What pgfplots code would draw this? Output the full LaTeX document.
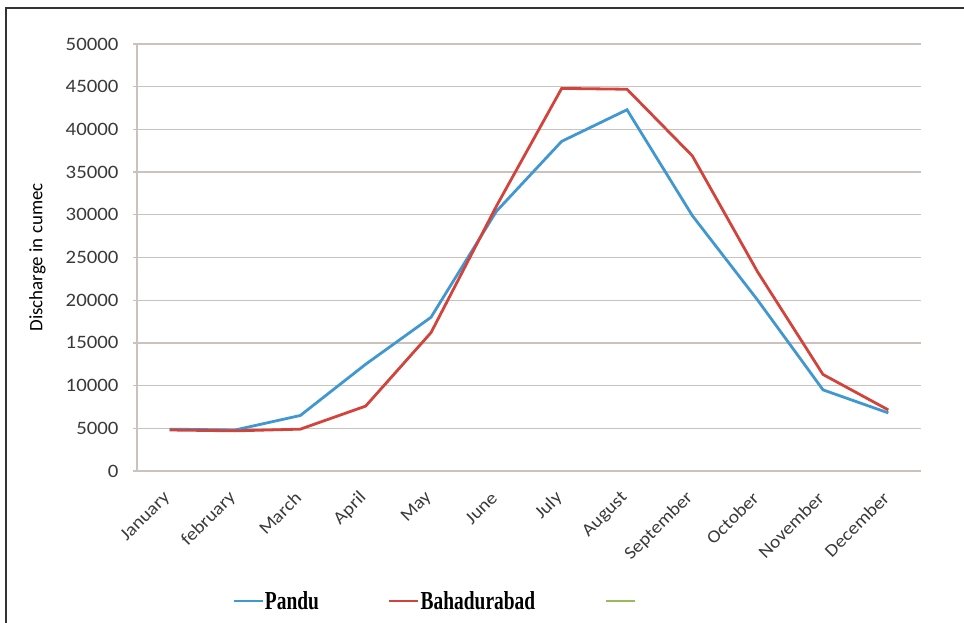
\documentclass[border=0pt]{standalone}
\usepackage{pgfplots}
\pgfplotsset{compat=1.18}
\usepackage{fontspec}
\setmainfont{Carlito}
\newfontfamily\tickfont[FakeStretch=1.1]{Carlito}
\newfontfamily\legfont[FakeStretch=0.75]{Liberation Serif}
\definecolor{pblue}{HTML}{4198D0}
\definecolor{pred}{HTML}{D2433C}
\definecolor{pgreen}{HTML}{9BBB59}
\definecolor{gridc}{HTML}{CBC2BE}
\definecolor{txt}{HTML}{3A3A3A}
\begin{document}
\begin{tikzpicture}[x=1bp,y=1bp]
\useasboundingbox (0,0) rectangle (964,623);
\draw[line width=2bp, color=black!80] (6,0) -- (6,615) -- (964,615);
\begin{axis}[
  at={(137bp,152bp)}, anchor=south west,
  scale only axis, width=784bp, height=427bp,
  xmin=-0.5, xmax=11.5, ymin=0, ymax=50000,
  axis x line*=bottom, axis y line*=left,
  axis line style={gridc, line width=1.3bp},
  ytick={0,5000,...,50000},
  scaled y ticks=false,
  ymajorgrids, grid style={gridc, line width=1.3bp},
  xtick=data,
  xticklabels={January,february,March,April,May,June,July,August,September,October,November,December},
  xtick style={draw=none},
  ytick style={gridc, line width=1.3bp},
  tick align=outside, major tick length=4bp,
  /pgf/number format/1000 sep={},
  /pgf/number format/assume math mode=true,
  yticklabel style={font=\tickfont\fontsize{19}{22}\selectfont, text=txt, xshift=-11bp},
  xticklabel style={xshift=-2bp, yshift=-20bp, rotate=45, anchor=east, inner sep=0pt, font=\tickfont\fontsize{18}{21}\selectfont, text=txt},
  ylabel={Discharge in cumec},
  ylabel style={font=\fontsize{19}{22}\selectfont, text=black, at={(axis description cs:-0.127,0.5)}, anchor=center},
  legend columns=3,
  legend style={draw=none, fill=none, at={(axis description cs:0.1173,-0.3044)}, anchor=west,
    font=\legfont\bfseries\fontsize{26}{30}\selectfont, nodes={inner sep=1bp},
    /tikz/every even column/.append style={column sep=68bp}},
  legend image code/.code={\draw[#1] (0bp,0bp) -- (29bp,0bp);},
]
\addplot[pblue, line width=2.8bp] coordinates {
(0,4900) (1,4800) (2,6500) (3,12500) (4,18000) (5,30400) (6,38600) (7,42300) (8,29900) (9,20000) (10,9500) (11,6800)};
\addlegendentry{Pandu}
\addplot[pred, line width=2.8bp] coordinates {
(0,4800) (1,4700) (2,4900) (3,7600) (4,16200) (5,31000) (6,44800) (7,44700) (8,36900) (9,23300) (10,11300) (11,7150)};
\addlegendentry{Bahadurabad}
\addlegendimage{pgreen, line width=2.8bp}
\addlegendentry{}
\end{axis}
\end{tikzpicture}
\end{document}
